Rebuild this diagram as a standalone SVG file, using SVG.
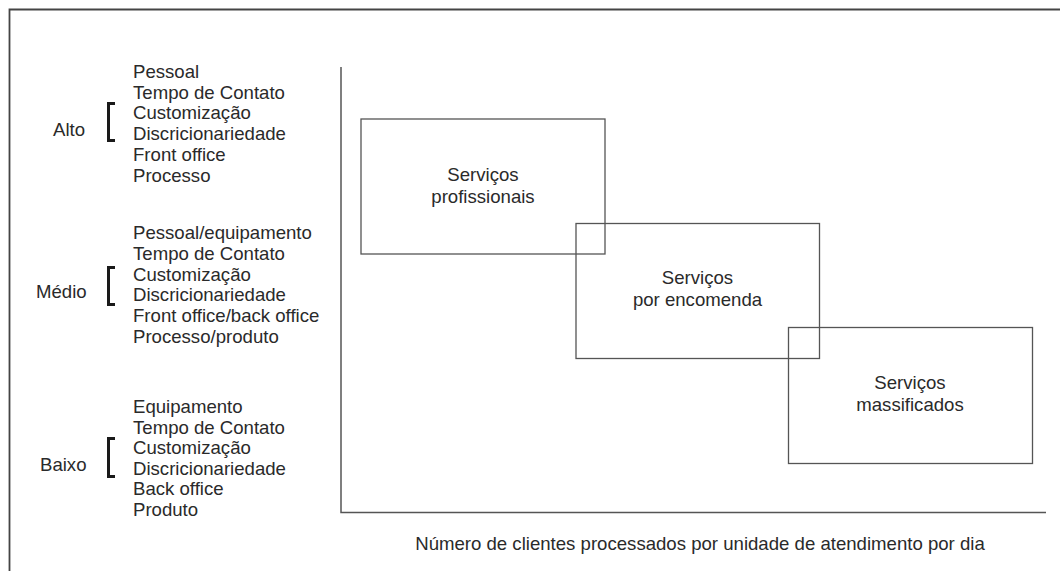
<svg xmlns="http://www.w3.org/2000/svg" width="1060" height="571" viewBox="0 0 1060 571">
<style>
text{font-family:"Liberation Sans",Arial,sans-serif;font-size:18.6px;fill:#2a2a2a}
.c{text-anchor:middle}
.box{fill:none;stroke:#555;stroke-width:1.3}
.ax{stroke:#555;stroke-width:1.5;fill:none}
.br{fill:none;stroke:#1a1a1a;stroke-width:3}
</style>
<rect width="1060" height="571" fill="#fff"/>
<path d="M9.5,571 V9.5 H1060" fill="none" stroke="#444" stroke-width="1.8"/>
<g id="axes" class="ax">
<path d="M341,67 V512.5 H1046"/>
</g>
<g id="connectors"/>
<g id="alto">
<text x="53" y="136">Alto</text>
<path class="br" d="M115,103.5 H108.5 V140.5 H115"/>
<text x="133" y="78">Pessoal</text>
<text x="133" y="98.7">Tempo de Contato</text>
<text x="133" y="119.4">Customização</text>
<text x="133" y="140.1">Discricionariedade</text>
<text x="133" y="160.8">Front office</text>
<text x="133" y="181.5">Processo</text>
</g>
<g id="medio">
<text x="36" y="298">Médio</text>
<path class="br" d="M115,267.5 H108.5 V304.5 H115"/>
<text x="133" y="239">Pessoal/equipamento</text>
<text x="133" y="259.8">Tempo de Contato</text>
<text x="133" y="280.6">Customização</text>
<text x="133" y="301.4">Discricionariedade</text>
<text x="133" y="322.2">Front office/back office</text>
<text x="133" y="343">Processo/produto</text>
</g>
<g id="baixo">
<text x="40" y="471">Baixo</text>
<path class="br" d="M115,438.5 H108.5 V476.5 H115"/>
<text x="133" y="413">Equipamento</text>
<text x="133" y="433.6">Tempo de Contato</text>
<text x="133" y="454.2">Customização</text>
<text x="133" y="474.8">Discricionariedade</text>
<text x="133" y="495.4">Back office</text>
<text x="133" y="516">Produto</text>
</g>
<g id="profissionais">
<rect class="box" x="361" y="119" width="244" height="135"/>
<text class="c" x="483" y="181">Serviços</text>
<text class="c" x="483" y="203">profissionais</text>
</g>
<g id="encomenda">
<rect class="box" x="576" y="223.5" width="243.5" height="135"/>
<text class="c" x="697.5" y="284">Serviços</text>
<text class="c" x="697.5" y="306">por encomenda</text>
</g>
<g id="massificados">
<rect class="box" x="788.5" y="327.5" width="244" height="136"/>
<text class="c" x="910" y="389">Serviços</text>
<text class="c" x="910" y="411">massificados</text>
</g>
<g id="xlabel">
<text class="c" x="700" y="550">Número de clientes processados por unidade de atendimento por dia</text>
</g>
</svg>
